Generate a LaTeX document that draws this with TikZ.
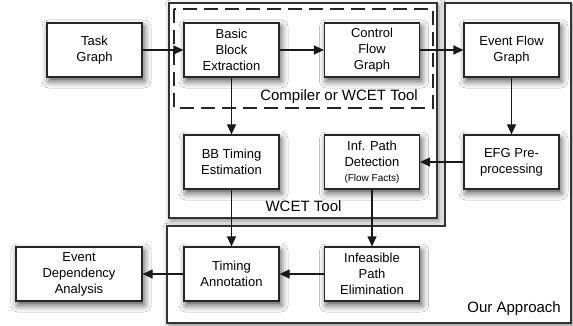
\documentclass[tikz,border=0pt]{standalone}
\usepackage{fontspec}
\setmainfont{Liberation Sans}
\usetikzlibrary{arrows.meta,shadows.blur}

\tikzset{
  stepbox/.style={draw=black!85, line width=1.2pt, fill=white,
    minimum width=95pt, minimum height=54pt, inner sep=1pt, align=center,
    font=\fontsize{13}{16}\selectfont,
    blur shadow={shadow xshift=2pt, shadow yshift=-4pt, shadow blur radius=7pt, shadow opacity=70}},
  region/.style={draw=black!80, line width=1.2pt, fill=white,
    blur shadow={shadow xshift=2pt, shadow yshift=-3pt, shadow blur radius=6pt, shadow opacity=50}},
  flow/.style={line width=1.2pt, draw=black!90, -{Triangle[length=10pt,width=9pt]}},
  regionlabel/.style={inner sep=0pt, font=\fontsize{15}{18}\selectfont},
}

\begin{document}
\begin{tikzpicture}[x=1pt, y=-1pt]
  \useasboundingbox[fill=white] (0,0) rectangle (573,326);

  % containing regions
  \path[region] (169,3) rectangle (437,218);
  \path[region] (445,3) -- (571,3) -- (571,323) -- (167,323) -- (167,226) -- (445,226) -- cycle;
  \draw[black!85, line width=1.2pt, dash pattern=on 14pt off 7pt] (174,9) rectangle (433,108);

  % labels of the regions
  \node[regionlabel, anchor=east] (lblcomp) at (418,97) {Compiler or WCET Tool};
  \node[regionlabel] (lblwcet) at (303.5,206) {WCET Tool};
  \node[regionlabel, anchor=east] (lblour) at (561,309) {Our Approach};

  % processing steps
  \node[stepbox] (task) at (94.5,50) {Task\\Graph};
  \node[stepbox] (bbe)  at (231.5,50) {Basic\\Block\\Extraction};
  \node[stepbox] (cfg)  at (372,50) {Control\\Flow\\Graph};
  \node[stepbox] (efg)  at (511.5,50) {Event Flow\\Graph};
  \node[stepbox] (bbt)  at (231.5,162) {BB Timing\\Estimation};
  \node[stepbox] (ipd)  at (372,162) {Inf. Path\\Detection\\[-1pt]{\fontsize{10}{12}\selectfont (Flow Facts)}};
  \node[stepbox] (efgp) at (511.5,162) {EFG Pre-\\processing};
  \node[stepbox] (ta)   at (231.5,274) {Timing\\Annotation};
  \node[stepbox, minimum width=126pt] (eda) at (79,274) {Event\\Dependency\\Analysis};
  \node[stepbox] (ipe)  at (372,274) {Infeasible\\Path\\Elimination};

  % data flow
  \draw[flow] (task) -- (bbe);
  \draw[flow] (bbe) -- (cfg);
  \draw[flow] (cfg) -- (efg);
  \draw[flow] (efg) -- (efgp);
  \draw[flow] (efgp) -- (ipd);
  \draw[flow] (bbe) -- (bbt);
  \draw[flow] (bbt) -- (ta);
  \draw[flow] (ipd) -- (ipe);
  \draw[flow] (ipe) -- (ta);
  \draw[flow] (ta) -- (eda);
\end{tikzpicture}
\end{document}
